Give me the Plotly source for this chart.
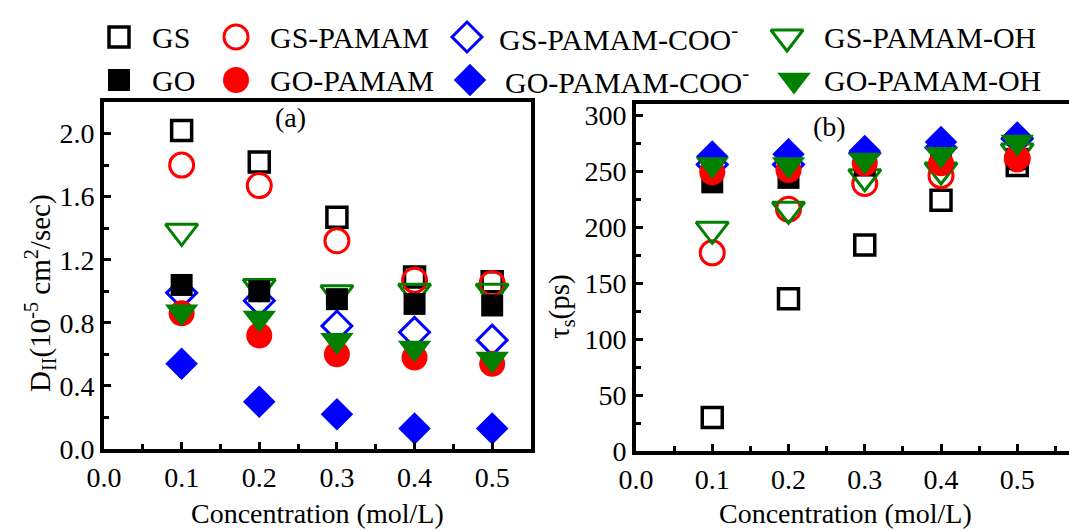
import plotly.graph_objects as go

# Concentration (mol/L)
conc = [0.1, 0.2, 0.3, 0.4, 0.5]

names = ["GS", "GS-PAMAM", "GS-PAMAM-COO<sup>-</sup>", "GS-PAMAM-OH",
         "GO", "GO-PAMAM", "GO-PAMAM-COO<sup>-</sup>", "GO-PAMAM-OH"]

# (a) diffusion coefficient D_II (10^-5 cm^2/sec)
d_gs = [2.02, 1.82, 1.47, 1.09, 1.06]
d_gs_pamam = [1.80, 1.67, 1.32, 1.07, 1.05]
d_gs_pamam_coo = [0.99, 0.94, 0.78, 0.74, 0.69]
d_gs_pamam_oh = [1.38, 1.03, 0.99, 1.00, 1.00]
d_go = [1.04, 1.00, 0.95, 0.92, 0.91]
d_go_pamam = [0.86, 0.72, 0.60, 0.58, 0.54]
d_go_pamam_coo = [0.54, 0.30, 0.22, 0.13, 0.13]
d_go_pamam_oh = [0.87, 0.83, 0.69, 0.64, 0.57]

# (b) solvation time tau_s (ps)
t_gs = [30, 136, 184, 224, 255]
t_gs_pamam = [177, 216, 239, 246, 261]
t_gs_pamam_coo = [256, 256, 266, 271, 279]
t_gs_pamam_oh = [198, 216, 245, 251, 268]
t_go = [240, 244, 255, 260, 261]
t_go_pamam = [249, 251, 257, 257, 262]
t_go_pamam_coo = [263, 265, 268, 276, 280]
t_go_pamam_oh = [256, 256, 260, 265, 276]

d_series = [d_gs, d_gs_pamam, d_gs_pamam_coo, d_gs_pamam_oh,
            d_go, d_go_pamam, d_go_pamam_coo, d_go_pamam_oh]
t_series = [t_gs, t_gs_pamam, t_gs_pamam_coo, t_gs_pamam_oh,
            t_go, t_go_pamam, t_go_pamam_coo, t_go_pamam_oh]

BLACK, RED, BLUE, GREEN = "#000000", "#ff0000", "#0000ff", "#008000"
styles = [
    dict(symbol="square-open", color=BLACK, size=20, line=dict(width=3.5, color=BLACK)),
    dict(symbol="circle-open", color=RED, size=24, line=dict(width=3, color=RED)),
    dict(symbol="diamond-open", color=BLUE, size=23, line=dict(width=3, color=BLUE)),
    dict(symbol="triangle-down-open", color=GREEN, size=28, line=dict(width=3, color=GREEN)),
    dict(symbol="square", color=BLACK, size=22),
    dict(symbol="circle", color=RED, size=26),
    dict(symbol="diamond", color=BLUE, size=25),
    dict(symbol="triangle-down", color=GREEN, size=29),
]

FONT = "Liberation Serif"
W, H = 1069, 531

fig = go.Figure()
for name, ys, st in zip(names, d_series, styles):
    fig.add_trace(go.Scatter(x=conc, y=ys, mode="markers", name=name, marker=st,
                             showlegend=False, cliponaxis=False, xaxis="x", yaxis="y"))
for name, ys, st in zip(names, t_series, styles):
    fig.add_trace(go.Scatter(x=conc, y=ys, mode="markers", name=name, marker=st,
                             showlegend=False, cliponaxis=False, xaxis="x2", yaxis="y2"))

# Legend drawn on a full-page overlay axis measured in pixels
leg_rows = [37, 80]
leg_marker_x = [119, 236, 467, 787, 119, 236, 470, 794]
leg_text_x = [150, 268, 497, 822, 150, 268, 503, 822]
annotations = []
for i, (name, st) in enumerate(zip(names, styles)):
    ry = leg_rows[i // 4]
    fig.add_trace(go.Scatter(x=[leg_marker_x[i]], y=[ry], mode="markers", marker=st,
                             showlegend=False, cliponaxis=False, hoverinfo="skip",
                             xaxis="x3", yaxis="y3"))
    annotations.append(dict(x=leg_text_x[i], y=ry, xref="x3", yref="y3", text=name,
                            showarrow=False, xanchor="left", yanchor="middle",
                            font=dict(family=FONT, size=30, color="black")))


def px_x(v):
    return v / W


def px_y(v):
    return 1 - v / H


axis_common = dict(showline=True, linewidth=4, linecolor="black", mirror=True,
                   showgrid=False, zeroline=False, ticks="inside", ticklen=7,
                   tickwidth=3, tickcolor="black", automargin=False,
                   tickfont=dict(family=FONT, size=28, color="black"))

minor_x = dict(dtick=0.05, ticks="inside", ticklen=5, tickwidth=3, tickcolor="black")

# panel (b) runs past the right page edge, so its right frame line is not shown
b_left = 636
b_unit = 762.5  # pixels per mol/L on panel (b)

fig.update_layout(
    template="none",
    width=W, height=H,
    margin=dict(l=0, r=0, t=0, b=0, pad=0),
    font=dict(family=FONT, color="black"),
    paper_bgcolor="white", plot_bgcolor="rgba(0,0,0,0)",
    xaxis=dict(axis_common, domain=[px_x(104), px_x(531)], anchor="y",
               range=[0, 0.55], tick0=0, dtick=0.1, tickformat=".1f", minor=minor_x),
    yaxis=dict(axis_common, domain=[px_y(449), px_y(102)], anchor="x",
               range=[0, 2.2], tick0=0, dtick=0.4, tickformat=".1f",
               minor=dict(dtick=0.2, ticks="inside", ticklen=5, tickwidth=3, tickcolor="black")),
    xaxis2=dict(axis_common, domain=[px_x(b_left), 1], anchor="y2",
                range=[0, (W - b_left) / b_unit], tick0=0, dtick=0.1, tickformat=".1f",
                minor=minor_x),
    yaxis2=dict(axis_common, domain=[px_y(451), px_y(104)], anchor="x2", mirror=False,
                range=[0, 310], tick0=0, dtick=50,
                minor=dict(dtick=25, ticks="inside", ticklen=5, tickwidth=3, tickcolor="black")),
    xaxis3=dict(domain=[0, 1], range=[0, W], visible=False, anchor="y3",
                fixedrange=True, automargin=False),
    yaxis3=dict(domain=[0, 1], range=[H, 0], visible=False, anchor="x3",
                fixedrange=True, automargin=False),
    showlegend=False,
)

annotations += [
    dict(x=290, y=117, xref="x3", yref="y3", text="(a)", showarrow=False,
         font=dict(family=FONT, size=28, color="black")),
    dict(x=829, y=126, xref="x3", yref="y3", text="(b)", showarrow=False,
         font=dict(family=FONT, size=28, color="black")),
    dict(x=317, y=513, xref="x3", yref="y3", text="Concentration (mol/L)", showarrow=False,
         font=dict(family=FONT, size=28, color="black")),
    dict(x=845, y=513, xref="x3", yref="y3", text="Concentration (mol/L)", showarrow=False,
         font=dict(family=FONT, size=28, color="black")),
    dict(x=40, y=293, xref="x3", yref="y3", textangle=-90,
         text="D<sub>II</sub>(10<sup>-5</sup> cm<sup>2</sup>/sec)", showarrow=False,
         font=dict(family=FONT, size=29, color="black")),
    dict(x=561, y=307, xref="x3", yref="y3", textangle=-90,
         text="τ<sub>s</sub>(ps)", showarrow=False,
         font=dict(family=FONT, size=29, color="black")),
]
fig.update_layout(annotations=annotations)

fig.write_html("out.html")
